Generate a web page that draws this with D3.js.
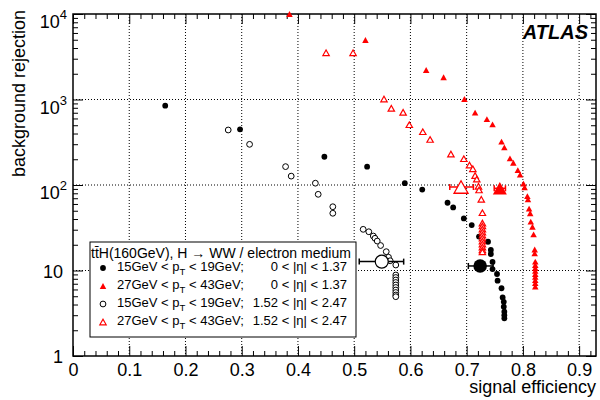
<!DOCTYPE html>
<html>
<head>
<meta charset="utf-8">
<script src="https://cdn.jsdelivr.net/npm/d3@7"></script>
<style>
  body { margin: 0; background: #fff; }
  svg text { font-family: "Liberation Sans", Arial, sans-serif; fill: #000; }
</style>
</head>
<body>
<svg id="chart"></svg>
<script>
// 15GeV < pT < 19GeV, 0 < |eta| < 1.37 (filled black circles)
const effCentralLow = [0.164, 0.297, 0.447, 0.523, 0.590, 0.621, 0.666, 0.676, 0.695, 0.709, 0.722, 0.738, 0.743,
    0.743, 0.746, 0.746, 0.754, 0.755, 0.762, 0.764, 0.766, 0.766, 0.767, 0.767, 0.767];
const rejCentralLow = [846, 448, 214, 164, 105, 88.5, 62, 54.6, 40.6, 34, 24.9, 21.7, 17.4,
    15.6, 12.6, 10.4, 9.1, 7.6, 6.2, 4.83, 4.3, 3.77, 3.3, 3.0, 2.76];

// 27GeV < pT < 43GeV, 0 < |eta| < 1.37 (filled red triangles)
const effCentralHigh = [0.385, 0.520, 0.628, 0.659, 0.696, 0.715, 0.736, 0.746, 0.762, 0.767, 0.777, 0.783, 0.791,
    0.795, 0.801, 0.803, 0.808, 0.809, 0.811, 0.813, 0.814, 0.817, 0.819, 0.821, 0.821,
    0.822, 0.822, 0.822, 0.822, 0.822, 0.822, 0.822, 0.822, 0.822];
const rejCentralHigh = [10000, 4966, 2213, 1820, 1014, 701, 591, 513, 321, 276, 205, 182, 149,
    132, 104, 94, 74.3, 68, 52.8, 46.7, 37.2, 32.5, 26.4, 17.6, 15.9,
    12.7, 11.6, 10.7, 9.9, 9.1, 8.4, 7.7, 7.1, 6.5];

// 15GeV < pT < 19GeV, 1.52 < |eta| < 2.47 (open black circles)
const effForwardLow = [0.276, 0.314, 0.378, 0.388, 0.431, 0.436, 0.462, 0.462, 0.516, 0.526, 0.534, 0.537, 0.541,
    0.547, 0.557, 0.561, 0.564, 0.574, 0.574, 0.574, 0.574, 0.574, 0.574, 0.574, 0.574, 0.574, 0.574, 0.574];
const rejForwardLow = [440, 299, 164, 127, 105, 77.8, 55.7, 46.7, 30.3, 28.4, 25.3, 23.8, 22.1,
    19.6, 16.6, 14.3, 13.0, 11.6, 8.86, 8.28, 7.74, 7.24, 6.77, 6.33, 5.91, 5.53, 5.17, 4.94];

// 27GeV < pT < 43GeV, 1.52 < |eta| < 2.47 (open red triangles)
const effForwardHigh = [0.450, 0.498, 0.553, 0.566, 0.587, 0.598, 0.622, 0.635, 0.672, 0.695, 0.705, 0.711, 0.715,
    0.718, 0.721, 0.722, 0.726, 0.728, 0.728, 0.728, 0.728, 0.728, 0.728, 0.728, 0.728, 0.728, 0.728, 0.728, 0.728];
const rejForwardHigh = [3524, 3524, 1014, 789, 708, 507, 420, 341, 230, 203, 171, 155, 129,
    117, 96.6, 87.5, 68, 47.4, 35.9, 33.2, 30.5, 28.2, 26, 24, 22.1, 20.4, 18.8, 17.4, 16.5];

// "electron medium" working point for each sample, with its efficiency range
// order: central low pT, central high pT, forward low pT, forward high pT
const mediumEff = [0.724, 0.759, 0.549, 0.690];
const mediumEffLow = [0.703, 0.749, 0.509, 0.670];
const mediumEffHigh = [0.747, 0.769, 0.588, 0.712];
const mediumRej = [11.3, 91.5, 12.7, 94.8];

const xMajorTicks = [0, 0.1, 0.2, 0.3, 0.4, 0.5, 0.6, 0.7, 0.8, 0.9];
const yDecades = [1, 10, 100, 1000, 10000];

const legendHeader = 'tt\u0304H(160GeV), H \u2192 WW / electron medium';
const legendPt = [['15GeV', '19GeV'], ['27GeV', '43GeV'], ['15GeV', '19GeV'], ['27GeV', '43GeV']];
const legendEta = ['0 < |\u03b7| < 1.37', '0 < |\u03b7| < 1.37', '1.52 < |\u03b7| < 2.47', '1.52 < |\u03b7| < 2.47'];

const RED = '#ff0000';

class RejectionPlot {

    constructor(_config) {
        this.config = {
            parentElement: _config.parentElement,
            containerWidth: 600,
            containerHeight: 400,
            margin: {top: 14, right: 4, bottom: 44, left: 73}
        };
        this.initVis();
    }

    initVis() {
        let vis = this;
        const m = vis.config.margin;

        vis.width = vis.config.containerWidth - m.left - m.right;
        vis.height = vis.config.containerHeight - m.top - m.bottom;

        vis.svg = d3.select(vis.config.parentElement)
            .attr('width', vis.config.containerWidth)
            .attr('height', vis.config.containerHeight);

        vis.xScale = d3.scaleLinear().domain([0, 0.93]).range([m.left, m.left + vis.width]);
        vis.yScale = d3.scaleLog().domain([1, 1e4]).range([m.top + vis.height, m.top]);

        vis.renderFrame();
        vis.renderData();
        vis.renderLegend();
    }

    renderFrame() {
        let vis = this;
        const x = vis.xScale, y = vis.yScale;
        const x0 = x.range()[0], x1 = x.range()[1], yBot = y.range()[0], yTop = y.range()[1];

        // dotted grid
        const grid = vis.svg.append('g').attr('stroke', '#000').attr('stroke-width', 1)
            .attr('stroke-dasharray', '1,2');
        grid.selectAll('.gx').data(xMajorTicks.slice(1)).join('line')
            .attr('x1', d => x(d)).attr('x2', d => x(d))
            .attr('y1', yTop).attr('y2', yBot);
        grid.selectAll('.gy').data(yDecades.slice(1, -1)).join('line')
            .attr('x1', x0).attr('x2', x1)
            .attr('y1', d => y(d)).attr('y2', d => y(d));

        // minor ticks every 0.02, log minors 2..9
        const xMinor = d3.range(0, 93, 2).map(d => d / 100).filter(d => Math.round(d * 100) % 10 !== 0);
        const yMinor = [];
        yDecades.slice(0, -1).forEach(dec => d3.range(2, 10).forEach(k => yMinor.push(dec * k)));

        const ax = (gen, tr) => vis.svg.append('g').attr('transform', tr).call(gen)
            .call(g => g.select('.domain').remove());

        ax(d3.axisBottom(x).tickValues(xMajorTicks).tickSize(-10).tickPadding(7).tickFormat(d3.format('')),
            `translate(0,${yBot})`)
            .call(g => g.selectAll('text').attr('font-size', 18).attr('font-family', 'Liberation Sans, Arial'));
        ax(d3.axisBottom(x).tickValues(xMinor).tickSize(-5).tickFormat(''), `translate(0,${yBot})`);
        ax(d3.axisTop(x).tickValues(xMajorTicks).tickSize(-10).tickFormat(''), `translate(0,${yTop})`);
        ax(d3.axisTop(x).tickValues(xMinor).tickSize(-5).tickFormat(''), `translate(0,${yTop})`);
        ax(d3.axisLeft(y).tickValues(yDecades).tickSize(-10).tickFormat(''), `translate(${x0},0)`);
        ax(d3.axisLeft(y).tickValues(yMinor).tickSize(-5).tickFormat(''), `translate(${x0},0)`);
        ax(d3.axisRight(y).tickValues(yDecades).tickSize(-10).tickFormat(''), `translate(${x1},0)`);
        ax(d3.axisRight(y).tickValues(yMinor).tickSize(-5).tickFormat(''), `translate(${x1},0)`);

        vis.svg.selectAll('.tick line').attr('stroke', '#000').attr('stroke-width', 1);

        // y labels with powers of ten
        const yl = vis.svg.append('g').attr('font-size', 18).attr('text-anchor', 'end');
        yDecades.forEach(d => {
            const p = Math.round(Math.log10(d));
            if (p <= 1) {
                yl.append('text').attr('x', x0 - 10).attr('y', y(d) + 7).text(d);
            } else {
                const t = yl.append('text').attr('x', x0 - 6).attr('y', y(d) + 14);
                t.append('tspan').text('10');
                t.append('tspan').attr('font-size', 13).attr('dy', -9).text(p);
            }
        });

        // frame
        vis.svg.append('rect')
            .attr('x', x0).attr('y', yTop).attr('width', x1 - x0).attr('height', yBot - yTop)
            .attr('fill', 'none').attr('stroke', '#000').attr('stroke-width', 1.5);

        // titles
        vis.svg.append('text').attr('x', x1).attr('y', 393).attr('text-anchor', 'end')
            .attr('font-size', 18).text('signal efficiency');
        vis.svg.append('text').attr('transform', `translate(25,${yTop - 4}) rotate(-90)`)
            .attr('text-anchor', 'end').attr('font-size', 18).text('background rejection');
        vis.svg.append('text').attr('x', 588).attr('y', 39).attr('text-anchor', 'end')
            .attr('font-size', 20).attr('font-weight', 'bold').attr('font-style', 'italic').text('ATLAS');
    }

    triangle(cx, cy, w, h) {
        return `M${cx - w / 2},${cy + h / 2}L${cx + w / 2},${cy + h / 2}L${cx},${cy - h / 2}Z`;
    }

    renderData() {
        let vis = this;
        const x = vis.xScale, y = vis.yScale;
        const pts = (ex, ry) => ex.map((e, i) => ({e: e, r: ry[i]}));

        const g = vis.svg.append('g');

        g.selectAll('.pt-cl').data(pts(effCentralLow, rejCentralLow)).join('circle')
            .attr('cx', d => x(d.e)).attr('cy', d => y(d.r)).attr('r', 2.9).attr('fill', '#000');

        g.selectAll('.pt-fl').data(pts(effForwardLow, rejForwardLow)).join('circle')
            .attr('cx', d => x(d.e)).attr('cy', d => y(d.r)).attr('r', 2.9)
            .attr('fill', '#fff').attr('stroke', '#000').attr('stroke-width', 1);

        g.selectAll('.pt-ch').data(pts(effCentralHigh, rejCentralHigh)).join('path')
            .attr('d', d => vis.triangle(x(d.e), y(d.r), 6.5, 5.8)).attr('fill', RED);

        g.selectAll('.pt-fh').data(pts(effForwardHigh, rejForwardHigh)).join('path')
            .attr('d', d => vis.triangle(x(d.e), y(d.r), 6.4, 5.6))
            .attr('fill', '#fff').attr('stroke', RED).attr('stroke-width', 1.2);

        // medium working points: large markers with efficiency error bars
        const colours = ['#000', RED, '#000', RED];
        const wp = mediumEff.map((e, i) => ({e: e, lo: mediumEffLow[i], hi: mediumEffHigh[i], r: mediumRej[i], c: colours[i], i: i}));

        const bars = g.selectAll('.wp-bar').data(wp).join('g').attr('stroke', d => d.c).attr('stroke-width', 1.5);
        bars.append('line').attr('x1', d => x(d.lo)).attr('x2', d => x(d.hi))
            .attr('y1', d => y(d.r)).attr('y2', d => y(d.r));
        bars.append('line').attr('x1', d => x(d.lo)).attr('x2', d => x(d.lo))
            .attr('y1', d => y(d.r) - 3).attr('y2', d => y(d.r) + 3);
        bars.append('line').attr('x1', d => x(d.hi)).attr('x2', d => x(d.hi))
            .attr('y1', d => y(d.r) - 3).attr('y2', d => y(d.r) + 3);

        wp.forEach(d => {
            const cx = x(d.e), cy = y(d.r);
            if (d.i === 0) {
                g.append('circle').attr('cx', cx).attr('cy', cy).attr('r', 6.8).attr('fill', '#000');
            } else if (d.i === 2) {
                g.append('circle').attr('cx', cx).attr('cy', cy).attr('r', 6.5)
                    .attr('fill', '#fff').attr('stroke', '#000').attr('stroke-width', 1.2);
            } else if (d.i === 1) {
                g.append('path').attr('d', vis.triangle(cx, cy, 14, 12.5)).attr('fill', RED);
            } else {
                g.append('path').attr('d', vis.triangle(cx, cy, 14, 12.5))
                    .attr('fill', '#fff').attr('stroke', RED).attr('stroke-width', 1.3);
            }
        });
    }

    renderLegend() {
        let vis = this;
        const lg = vis.svg.append('g').attr('font-size', 13);

        lg.append('rect').attr('x', 90).attr('y', 242).attr('width', 266).attr('height', 95)
            .attr('fill', '#fff').attr('stroke', '#000').attr('stroke-width', 1);

        lg.append('text').attr('x', 91).attr('y', 258).attr('font-size', 14).text(legendHeader);

        const rowY = [271, 289, 307, 325];
        legendPt.forEach((pt, i) => {
            const by = rowY[i];
            const t = lg.append('text').attr('x', 117).attr('y', by);
            t.append('tspan').text(`${pt[0]} < p`);
            t.append('tspan').attr('font-size', 9.5).attr('dy', 4).text('T');
            t.append('tspan').attr('dy', -4).text(` < ${pt[1]};`);
            lg.append('text').attr('x', 347).attr('y', by).attr('text-anchor', 'end').text(legendEta[i]);

            const mx = 103, my = by - 3;
            if (i === 0) {
                lg.append('circle').attr('cx', mx).attr('cy', my).attr('r', 2.9).attr('fill', '#000');
            } else if (i === 2) {
                lg.append('circle').attr('cx', mx).attr('cy', my).attr('r', 2.9)
                    .attr('fill', '#fff').attr('stroke', '#000');
            } else if (i === 1) {
                lg.append('path').attr('d', vis.triangle(mx, my, 6.5, 5.8)).attr('fill', RED);
            } else {
                lg.append('path').attr('d', vis.triangle(mx, my, 6.4, 5.6))
                    .attr('fill', '#fff').attr('stroke', RED).attr('stroke-width', 1.2);
            }
        });
    }
}

new RejectionPlot({parentElement: '#chart'});
</script>
</body>
</html>
